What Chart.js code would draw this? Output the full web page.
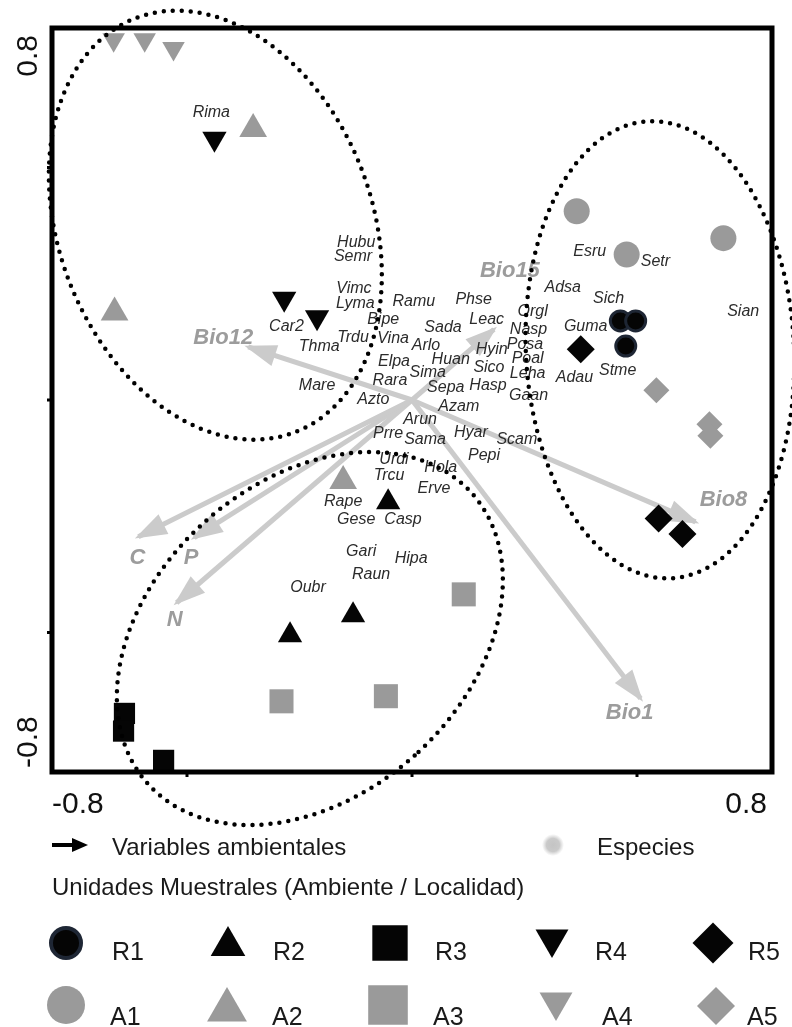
<!DOCTYPE html>
<html>
<head>
<meta charset="utf-8">
<script src="https://cdn.jsdelivr.net/npm/chart.js@4.4.1/dist/chart.umd.min.js"></script>
<style>
  html, body { margin: 0; padding: 0; background: #fff; }
  #wrap { width: 792px; height: 1027px; position: relative; }
</style>
</head>
<body>
<div id="wrap"><canvas id="cca"></canvas></div>
<script>
// axis ticks shown at the ends of the frame
const tickLabels = ['-0.8', '0.8']
const tickMarks = [-0.5, 0, 0.5]

// environmental variables (arrow tips, arrows start at 0,0)
const envNames = ['Bio12', 'Bio15', 'Bio8', 'Bio1', 'C', 'P', 'N']
const envX = [-0.364, 0.182, 0.630, 0.508, -0.608, -0.484, -0.523]
const envY = [0.114, 0.152, -0.262, -0.642, -0.294, -0.296, -0.436]

// species scores
const spNames = ['Rima', 'Hubu', 'Semr', 'Vimc', 'Lyma', 'Car2', 'Thma', 'Trdu', 'Mare', 'Azto',
  'Ramu', 'Phse', 'Bipe', 'Vina', 'Sada', 'Leac', 'Arlo', 'Hyin', 'Elpa', 'Huan',
  'Sima', 'Sico', 'Rara', 'Sepa', 'Hasp', 'Azam', 'Arun', 'Prre', 'Sama', 'Hyar',
  'Scam', 'Pepi', 'Urdi', 'Hola', 'Trcu', 'Erve', 'Orgl', 'Nasp', 'Posa', 'Poal',
  'Leha', 'Gaan', 'Esru', 'Setr', 'Adsa', 'Sich', 'Sian', 'Guma', 'Adau', 'Stme',
  'Rape', 'Gese', 'Casp', 'Gari', 'Raun', 'Oubr', 'Hipa']
const spX = [-0.446, -0.124, -0.131, -0.129, -0.126, -0.279, -0.206, -0.131, -0.211, -0.086,
  0.004, 0.137, -0.064, -0.042, 0.069, 0.166, 0.031, 0.177, -0.040, 0.086,
  0.035, 0.171, -0.049, 0.075, 0.169, 0.104, 0.018, -0.053, 0.029, 0.131,
  0.233, 0.160, -0.040, 0.064, -0.051, 0.049, 0.268, 0.259, 0.251, 0.257,
  0.257, 0.259, 0.395, 0.541, 0.335, 0.437, 0.736, 0.386, 0.361, 0.457,
  -0.153, -0.124, -0.020, -0.113, -0.091, -0.231, -0.002]
const spY = [0.618, 0.339, 0.309, 0.240, 0.208, 0.159, 0.116, 0.135, 0.032, 0.002,
  0.212, 0.215, 0.174, 0.133, 0.155, 0.174, 0.118, 0.109, 0.082, 0.088,
  0.060, 0.069, 0.041, 0.026, 0.032, -0.015, -0.043, -0.073, -0.086, -0.071,
  -0.084, -0.120, -0.129, -0.146, -0.163, -0.191, 0.191, 0.152, 0.120, 0.090,
  0.056, 0.009, 0.320, 0.298, 0.242, 0.219, 0.191, 0.159, 0.049, 0.064,
  -0.219, -0.258, -0.258, -0.326, -0.376, -0.403, -0.341]

// sample units (ambiente / localidad)
const R1 = [[0.463, 0.170], [0.497, 0.170], [0.475, 0.116]]
const R2 = [[-0.053, -0.220], [-0.131, -0.463], [-0.271, -0.506]]
const R3 = [[-0.639, -0.674], [-0.641, -0.712], [-0.552, -0.775]]
const R4 = [[-0.439, 0.562], [-0.284, 0.218], [-0.211, 0.178]]
const R5 = [[0.375, 0.109], [0.548, -0.255], [0.601, -0.288]]
const A1 = [[0.366, 0.406], [0.477, 0.313], [0.692, 0.348]]
const A2 = [[-0.353, 0.583], [-0.661, 0.188], [-0.153, -0.174]]
const A3 = [[-0.290, -0.648], [-0.058, -0.637], [0.115, -0.418]]
const A4 = [[-0.663, 0.775], [-0.594, 0.775], [-0.530, 0.756]]
const A5 = [[0.543, 0.021], [0.661, -0.052], [0.663, -0.077]]
const groupNames = ['R1', 'R2', 'R3', 'R4', 'R5', 'A1', 'A2', 'A3', 'A4', 'A5']
const groupData = [R1, R2, R3, R4, R5, A1, A2, A3, A4, A5]

// group ellipses (centre and radii in axis units)
const ellipses = [
  { cx: -0.437, cy: 0.376, rx: 0.348, ry: 0.477, rot: -0.368 },
  { cx: 0.551, cy: 0.108, rx: 0.298, ry: 0.492, rot: -0.05 },
  { cx: -0.227, cy: -0.513, rx: 0.349, ry: 0.468, rot: 0.84 }
]

const BLACK = '#050505'
const GREY = '#9a9a9a'
const ARROW = '#cbcbcb'
const style = {
  R1: { s: 'circle', r: 10, rot: 0, c: BLACK, b: '#1e2634', bw: 3 },
  R2: { s: 'triangle', r: 14, rot: 0, c: BLACK },
  R3: { s: 'rect', r: 15, rot: 0, c: BLACK },
  R4: { s: 'triangle', r: 14, rot: 180, c: BLACK },
  R5: { s: 'rectRot', r: 14, rot: 0, c: BLACK },
  A1: { s: 'circle', r: 13, rot: 0, c: GREY },
  A2: { s: 'triangle', r: 16, rot: 0, c: GREY },
  A3: { s: 'rect', r: 17, rot: 0, c: GREY },
  A4: { s: 'triangle', r: 13, rot: 180, c: GREY },
  A5: { s: 'rectRot', r: 13, rot: 0, c: GREY }
}
// label offsets from the arrow tip, px
const envOffset = [[-25, -9], [16, -58], [28, -22], [-11, 14], [-1, 21], [-3, 20], [-2, 17]]

// legend layout
const legendItems = [
  { g: 'R1', x: 66, y: 943, r: 15, lx: 112, ly: 960 },
  { g: 'R2', x: 228, y: 946, r: 20, lx: 273, ly: 960 },
  { g: 'R3', x: 390, y: 943, r: 25, lx: 435, ly: 960 },
  { g: 'R4', x: 552, y: 939, r: 19, lx: 595, ly: 960 },
  { g: 'R5', x: 713, y: 943, r: 20.5, lx: 748, ly: 960 },
  { g: 'A1', x: 66, y: 1005, r: 19, lx: 110, ly: 1025 },
  { g: 'A2', x: 227, y: 1010, r: 23, lx: 272, ly: 1025 },
  { g: 'A3', x: 388, y: 1005, r: 28, lx: 433, ly: 1025 },
  { g: 'A4', x: 556, y: 1002, r: 19, lx: 602, ly: 1025 },
  { g: 'A5', x: 716, y: 1006, r: 19, lx: 747, ly: 1025 }
]

const datasets = []
envNames.forEach((name, i) => {
  datasets.push({
    type: 'line',
    label: name,
    isArrow: true,
    data: [{ x: 0, y: 0 }, { x: envX[i], y: envY[i] }],
    borderColor: ARROW,
    borderWidth: 5,
    pointRadius: 0,
    order: 10
  })
})
datasets.push({
  label: 'Especies',
  isSpecies: true,
  data: spNames.map((n, i) => ({ x: spX[i], y: spY[i] })),
  pointRadius: 0,
  order: 5
})
groupNames.forEach((g, i) => {
  const st = style[g]
  datasets.push({
    label: g,
    data: groupData[i].map(p => ({ x: p[0], y: p[1] })),
    pointStyle: st.s,
    pointRotation: st.rot,
    pointRadius: st.r,
    pointBackgroundColor: st.c,
    pointBorderColor: st.b || st.c,
    pointBorderWidth: st.bw || 0,
    clip: false,
    order: 0
  })
})

const SANS = "'Liberation Sans', Arial, sans-serif"
const NARROW = "'Liberation Sans Narrow', 'Liberation Sans', Arial, sans-serif"

const decor = {
  id: 'decor',
  afterDatasetDraw(chart, args) {
    const ds = chart.data.datasets[args.index]
    if (!ds.isArrow) return
    const a = args.meta.data[0], b = args.meta.data[1]
    const ang = Math.atan2(b.y - a.y, b.x - a.x)
    const ctx = chart.ctx
    ctx.save()
    ctx.translate(b.x, b.y)
    ctx.rotate(ang)
    ctx.beginPath()
    ctx.moveTo(4, 0)
    ctx.lineTo(-28, -11)
    ctx.lineTo(-28, 11)
    ctx.closePath()
    ctx.fillStyle = ARROW
    ctx.fill()
    ctx.restore()
  },
  afterDatasetsDraw(chart) {
    const ctx = chart.ctx
    const xs = chart.scales.x, ys = chart.scales.y
    ctx.save()
    // species names
    ctx.font = 'italic 16px ' + SANS
    ctx.fillStyle = '#2b2b2b'
    ctx.textAlign = 'center'
    ctx.textBaseline = 'middle'
    chart.data.datasets.forEach((ds, di) => {
      if (!ds.isSpecies) return
      chart.getDatasetMeta(di).data.forEach((el, i) => ctx.fillText(spNames[i], el.x, el.y))
    })
    // arrow names
    ctx.font = 'italic bold 22px ' + SANS
    ctx.fillStyle = '#9c9c9c'
    chart.data.datasets.forEach((ds, di) => {
      if (!ds.isArrow) return
      const k = envNames.indexOf(ds.label)
      const tip = chart.getDatasetMeta(di).data[1]
      ctx.fillText(ds.label, tip.x + envOffset[k][0], tip.y + envOffset[k][1])
    })
    // dotted group ellipses
    ctx.strokeStyle = '#000'
    ctx.lineWidth = 4.5
    ctx.lineCap = 'round'
    ctx.setLineDash([0, 9])
    ellipses.forEach(e => {
      const cx = xs.getPixelForValue(e.cx), cy = ys.getPixelForValue(e.cy)
      const rx = xs.getPixelForValue(e.cx + e.rx) - cx
      const ry = ys.getPixelForValue(e.cy - e.ry) - cy
      ctx.beginPath()
      ctx.ellipse(cx, cy, rx, ry, e.rot, 0, Math.PI * 2)
      ctx.stroke()
    })
    ctx.restore()
  },
  afterDraw(chart) {
    const ctx = chart.ctx
    const ca = chart.chartArea
    const xs = chart.scales.x, ys = chart.scales.y
    ctx.save()
    // frame
    ctx.strokeStyle = '#000'
    ctx.lineWidth = 5
    ctx.strokeRect(ca.left, ca.top, ca.right - ca.left, ca.bottom - ca.top)
    ctx.lineWidth = 3
    tickMarks.forEach(v => {
      const px = xs.getPixelForValue(v)
      ctx.beginPath(); ctx.moveTo(px, ca.bottom); ctx.lineTo(px, ca.bottom + 5); ctx.stroke()
      const py = ys.getPixelForValue(v)
      ctx.beginPath(); ctx.moveTo(ca.left, py); ctx.lineTo(ca.left - 5, py); ctx.stroke()
    })
    // tick labels
    ctx.fillStyle = '#111'
    ctx.font = '30px ' + SANS
    ctx.textBaseline = 'alphabetic'
    ctx.textAlign = 'left'
    ctx.fillText(tickLabels[0], xs.getPixelForValue(-0.8), ca.bottom + 41)
    ctx.textAlign = 'right'
    ctx.fillText(tickLabels[1], xs.getPixelForValue(0.8) - 5, ca.bottom + 41)
    ctx.save()
    ctx.translate(ca.left - 15, ys.getPixelForValue(0.8) + 7)
    ctx.rotate(-Math.PI / 2)
    ctx.textAlign = 'right'
    ctx.fillText(tickLabels[1], 0, 0)
    ctx.restore()
    ctx.save()
    ctx.translate(ca.left - 15, ys.getPixelForValue(-0.8) - 4)
    ctx.rotate(-Math.PI / 2)
    ctx.textAlign = 'left'
    ctx.fillText(tickLabels[0], 0, 0)
    ctx.restore()

    // legend: arrow + species
    ctx.fillStyle = '#000'
    ctx.fillRect(52, 843, 24, 4)
    ctx.beginPath()
    ctx.moveTo(88, 845); ctx.lineTo(72, 838); ctx.lineTo(72, 852); ctx.closePath()
    ctx.fill()
    const g = ctx.createRadialGradient(553, 845, 0, 553, 845, 11)
    g.addColorStop(0, '#c4c4c4')
    g.addColorStop(0.6, '#cacaca')
    g.addColorStop(1, 'rgba(210,210,210,0)')
    ctx.fillStyle = g
    ctx.beginPath(); ctx.arc(553, 845, 11, 0, Math.PI * 2); ctx.fill()
    ctx.fillStyle = '#1a1a1a'
    ctx.font = '24px ' + SANS
    ctx.textAlign = 'left'
    ctx.fillText('Variables ambientales', 112, 855)
    ctx.fillText('Especies', 597, 855)
    ctx.fillText('Unidades Muestrales (Ambiente / Localidad)', 52, 895)

    // legend: sample-unit symbols
    ctx.font = '25px ' + NARROW
    legendItems.forEach(it => {
      const st = style[it.g]
      ctx.fillStyle = st.c
      ctx.strokeStyle = st.b || st.c
      ctx.lineWidth = st.bw ? 4 : 0
      Chart.helpers.drawPoint(ctx, {
        pointStyle: st.s, rotation: st.rot, radius: it.r, borderWidth: st.bw ? 4 : 0
      }, it.x, it.y)
      ctx.fillStyle = '#1a1a1a'
      ctx.fillText(it.g, it.lx, it.ly)
    })
    ctx.restore()
  }
}

new Chart(document.getElementById('cca'), {
  type: 'scatter',
  data: { datasets: datasets },
  options: {
    responsive: true,
    maintainAspectRatio: false,
    animation: false,
    layout: { padding: { left: 52, top: 28, right: 20, bottom: 255 } },
    scales: {
      x: { type: 'linear', min: -0.8, max: 0.8, display: false },
      y: { type: 'linear', min: -0.8, max: 0.8, display: false }
    },
    plugins: {
      legend: { display: false },
      tooltip: { enabled: false }
    }
  },
  plugins: [decor]
})
</script>
</body>
</html>
